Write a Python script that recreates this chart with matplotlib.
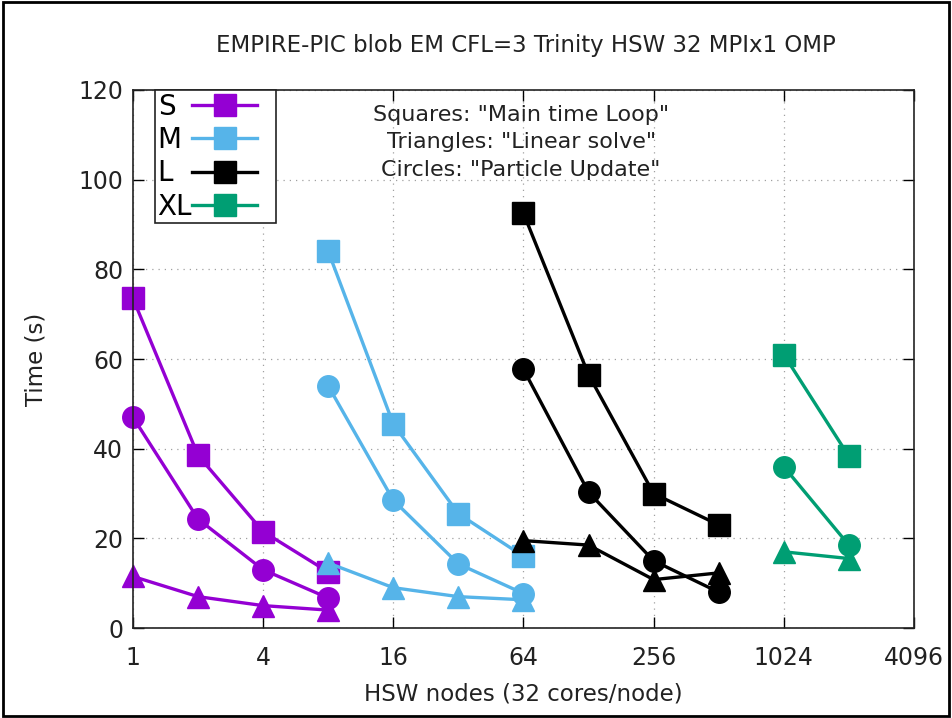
import numpy as np
import matplotlib
matplotlib.use("Agg")
from matplotlib import pyplot as plt
from matplotlib.patches import Rectangle
from matplotlib.transforms import Bbox

# node counts per problem size
x_S = [1, 2, 4, 8]
x_M = [8, 16, 32, 64]
x_L = [64, 128, 256, 512]
x_XL = [1024, 2048]

# squares: main time loop
main_S = [73.5, 38.5, 21.5, 12.5]
main_M = [84, 45.5, 25.5, 16]
main_L = [92.5, 56.5, 30, 23]
main_XL = [61, 38.3]

# circles: particle update
part_S = [47, 24.3, 13, 6.7]
part_M = [54, 28.5, 14.3, 7.7]
part_L = [57.7, 30.3, 15, 8]
part_XL = [36, 18.5]

# triangles: linear solve
lin_S = [11.5, 7, 5, 4]
lin_M = [14.5, 9, 7, 6.3]
lin_L = [19.5, 18.5, 10.8, 12.3]
lin_XL = [17, 15.5]

sizes = ['S', 'M', 'L', 'XL']
colors = ['#9400d3', '#56b4e9', '#000000', '#009e73']
xs = [x_S, x_M, x_L, x_XL]
mains = [main_S, main_M, main_L, main_XL]
parts = [part_S, part_M, part_L, part_XL]
lins = [lin_S, lin_M, lin_L, lin_XL]

xticks = [1, 4, 16, 64, 256, 1024, 4096]

fig = plt.figure(figsize=(9.52, 7.18), dpi=100)
ax = fig.add_axes([0.1397, 0.1253, 0.8203, 0.7494])
ax.set_axisbelow(True)

handles = []
for i in range(len(sizes)):
    h, = ax.plot(xs[i], mains[i], color=colors[i], lw=2.4, marker='s', ms=15.5, clip_on=False, zorder=3)
    ax.plot(xs[i], parts[i], color=colors[i], lw=2.4, marker='o', ms=15.5, clip_on=False, zorder=3)
    ax.plot(xs[i], lins[i], color=colors[i], lw=2.4, marker='^', ms=16.5, clip_on=False, zorder=3)
    handles.append(h)

ax.set_xscale('log', base=2)
ax.set_xlim(1, 4096)
ax.set_ylim(0, 120)
ax.set_xticks(xticks)
ax.set_xticklabels([str(t) for t in xticks])
ax.minorticks_off()
ax.set_yticks(np.arange(0, 121, 20))
ax.tick_params(direction='in', top=True, right=True, length=8, width=1, labelsize=17, labelcolor='#222222')
ax.tick_params(axis='x', pad=13)
ax.tick_params(axis='y', pad=7)
ax.grid(True, linestyle=(0, (1, 4)), color='#a0a0a0', lw=0.9)
for s in ax.spines.values():
    s.set_linewidth(1.2)
    s.set_color('#222222')
    s.set_zorder(4)

ax.set_xlabel('HSW nodes (32 cores/node)', fontsize=16.5, labelpad=9, color='#222222')
ax.set_ylabel('Time (s)', fontsize=16.5, labelpad=22, color='#222222')
fig.text(0.5525, 0.937, 'EMPIRE-PIC blob EM CFL=3 Trinity HSW 32 MPIx1 OMP', ha='center', va='center',
         fontsize=16.5, color='#222222')

ax.text(0.497, 0.9535, 'Squares: "Main time Loop"', transform=ax.transAxes, ha='center', va='center', fontsize=16, color='#222222')
ax.text(0.497, 0.9033, 'Triangles: "Linear solve"', transform=ax.transAxes, ha='center', va='center', fontsize=16, color='#222222')
ax.text(0.497, 0.851, 'Circles: "Particle Update"', transform=ax.transAxes, ha='center', va='center', fontsize=16, color='#222222')

leg = ax.legend(handles, sizes, loc='upper left', bbox_to_anchor=(0.028, 1.0), markerfirst=False,
                fancybox=False, framealpha=1, edgecolor='#222222', fontsize=20, handlelength=2.35,
                borderpad=0.1, labelspacing=0.19, handletextpad=0.0, borderaxespad=0)
leg.get_frame().set_linewidth(1.2)
leg.set_zorder(5)

# gnuplot puts the key text flush left and leaves room right of the samples
rows = leg._legend_handle_box.get_children()[0].get_children()
text_boxes = [r.get_children()[0] for r in rows]
samples = [r.get_children()[1] for r in rows]
orig_text_bbox = [tb.get_bbox for tb in text_boxes]
orig_sample_bbox = [sb.get_bbox for sb in samples]

def make_text_bbox(k):
    def fixed(renderer):
        bb = orig_text_bbox[k](renderer)
        w = max(f(renderer).width for f in orig_text_bbox)
        return Bbox.from_bounds(bb.x0, bb.y0, w, bb.height)
    return fixed

def make_sample_bbox(k):
    def wider(renderer):
        bb = orig_sample_bbox[k](renderer)
        return Bbox.from_bounds(bb.x0, bb.y0, bb.width + 16, bb.height)
    return wider

for k in range(len(rows)):
    text_boxes[k].get_bbox = make_text_bbox(k)
    samples[k].get_bbox = make_sample_bbox(k)

fig.patches.append(Rectangle((0.003, 0.003), 0.994, 0.994, transform=fig.transFigure,
                             fill=False, edgecolor='black', lw=2))

fig.savefig('out.png', dpi=100)
